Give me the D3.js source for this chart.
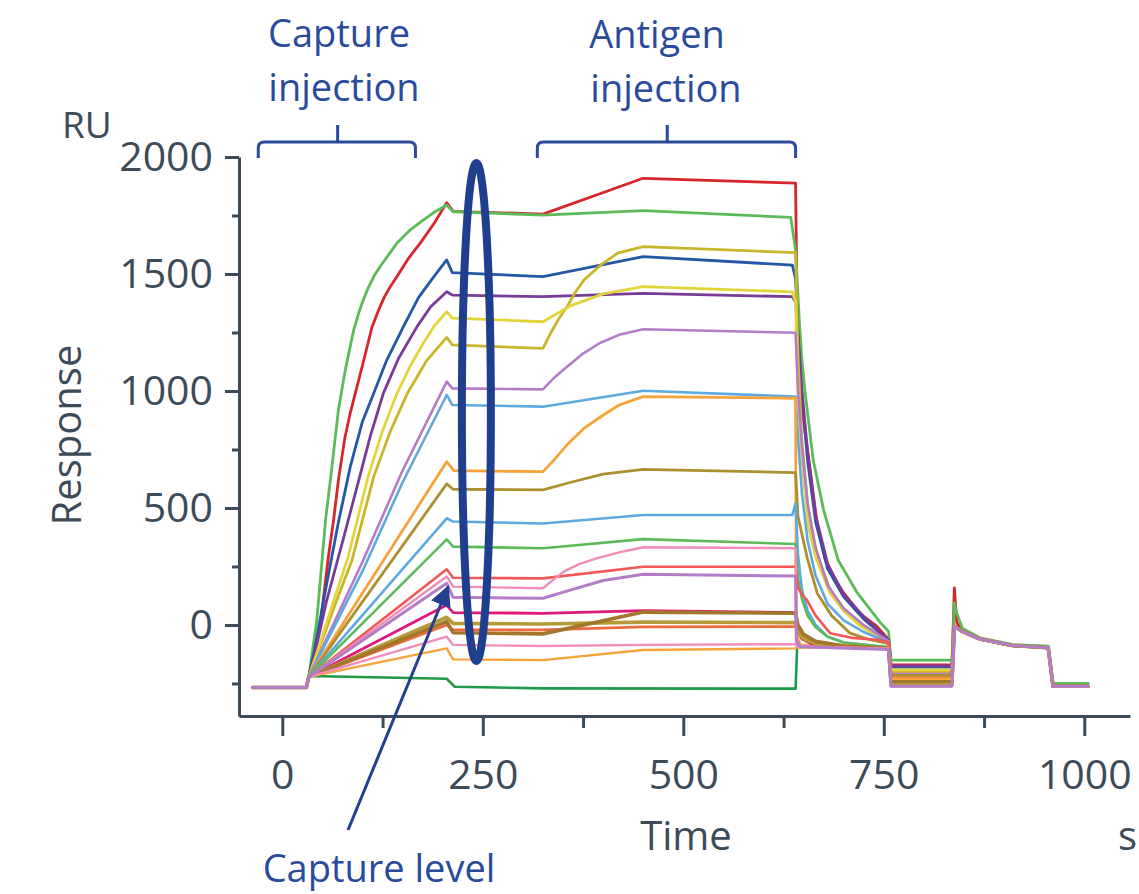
<!DOCTYPE html>
<html>
<head>
<meta charset="utf-8">
<script src="https://cdn.jsdelivr.net/npm/d3@7"></script>
<style>
  html, body { margin: 0; padding: 0; background: #fff; }
  svg { display: block; font-family: "Open Sans", "Noto Sans", sans-serif; }
</style>
</head>
<body>
<svg id="chart" width="1139" height="894"></svg>
<script>
// sensorgram traces as [time (s), response (RU)]

// shared start (baseline + injection start) and shared regeneration tail
const baseline = [[-37, -267], [30, -267], [33, -222]]
const rinseTail = [[838, -5], [848, -28], [870, -60], [910, -88], [955, -97], [961, -262], [1005, -262]]

const redTrace = [[38,-150],[48,20],[57,280],[64,450],[70,620],[78,800],[85,910],[91,990],[100,1110],[112,1275],[120,1345],[127,1400],[135,1448],[143,1489],[158,1570],[172,1632],[190,1720],[205,1805],[213,1768],[325,1756],[450,1909],[640,1888],[642,1300],[645,1050],[650,870],[656,720],[667,430],[677,280],[690,190],[700,137],[720,50],[741,-5],[756,-62],[759,-171],[835,-171],[838,158],[841,10],[848,-25],[870,-60],[910,-88],[955,-95],[961,-262],[1005,-262]]
const greenTrace = [[43,20],[54,450],[62,680],[70,920],[78,1080],[84,1180],[89,1260],[95,1330],[100,1380],[107,1440],[114,1489],[122,1532],[130,1570],[143,1632],[160,1690],[176,1731],[190,1765],[205,1795],[213,1766],[325,1752],[450,1771],[634,1742],[640,1600],[645,1280],[648,1130],[652,990],[662,705],[675,491],[693,278],[717,137],[746,9],[756,-28],[759,-150],[835,-150],[838,94],[841,50],[848,-15],[870,-55],[910,-83],[955,-90],[961,-250],[1005,-250]]
const blueTrace = [[40,-110],[55,170],[70,440],[85,680],[100,870],[114,990],[130,1130],[151,1275],[170,1400],[189,1489],[205,1560],[212,1506],[325,1489],[450,1574],[636,1538],[640,1480],[643,1250],[648,980],[655,700],[665,440],[680,240],[700,120],[725,25],[756,-65],[759,-180],[835,-180]]
const purpleTrace = [[40,-130],[55,100],[77,380],[97,640],[110,810],[126,990],[145,1140],[168,1275],[185,1360],[205,1424],[212,1410],[325,1403],[450,1417],[636,1403],[640,1380],[643,1230],[648,1000],[655,740],[665,470],[680,260],[700,130],[725,35],[756,-65],[759,-175],[835,-175]]
const yellowTrace = [[45,-100],[60,60],[82,290],[107,634],[125,830],[143,990],[160,1110],[176,1205],[190,1280],[205,1339],[212,1311],[325,1296],[360,1365],[400,1415],[450,1446],[636,1424],[640,1380],[643,1000],[648,700],[656,420],[665,290],[683,137],[700,60],[721,-5],[756,-75],[759,-192],[835,-192]]
const oliveYellowTrace = [[45,-110],[65,80],[87,278],[114,634],[135,830],[156,990],[180,1130],[205,1229],[212,1197],[325,1182],[335,1250],[345,1310],[355,1360],[365,1420],[376,1474],[397,1538],[418,1589],[450,1617],[640,1591],[643,1150],[648,780],[656,480],[665,320],[683,150],[700,70],[721,5],[756,-70],[759,-200],[835,-200]]
const lilacTrace = [[100,270],[150,660],[205,1040],[212,1011],[325,1007],[340,1060],[355,1104],[375,1160],[396,1205],[420,1240],[450,1264],[640,1249],[643,1000],[648,760],[655,520],[665,330],[680,170],[700,70],[725,0],[756,-70],[759,-210],[835,-210]]
const skyBlueTrace = [[100,230],[150,610],[205,983],[212,940],[325,933],[450,1001],[640,976],[643,800],[648,560],[655,360],[665,210],[680,90],[700,20],[725,-30],[756,-75],[759,-235],[835,-235]]
const orangeTrace = [[205,698],[214,660],[325,655],[340,710],[355,770],[376,840],[397,890],[420,940],[450,976],[640,969],[641,-40],[646,-85],[700,-95],[756,-100],[759,-225],[835,-225]]
const oliveBrownTrace = [[205,603],[213,580],[325,577],[360,610],[400,645],[450,665],[640,651],[643,463],[655,280],[667,136],[685,40],[708,-35],[730,-60],[756,-80],[759,-215],[835,-215]]
const skyBlue2Trace = [[205,456],[213,442],[325,434],[450,470],[636,470],[640,520],[643,300],[648,150],[655,60],[665,0],[680,-50],[700,-75],[756,-95],[759,-240],[835,-240]]
const green2Trace = [[205,366],[213,335],[325,328],[450,367],[640,346],[643,200],[648,110],[655,40],[665,-10],[680,-50],[700,-75],[756,-95],[759,-245],[835,-245]]
const lightRedTrace = [[205,238],[213,202],[325,199],[450,249],[640,249],[643,160],[648,130],[654,107],[665,40],[683,-35],[710,-55],[746,-64],[756,-75],[759,-230],[835,-230]]
const pinkTrace = [[205,207],[213,164],[325,157],[335,185],[351,228],[370,260],[392,285],[420,310],[450,332],[640,328],[641,-60],[646,-90],[756,-100],[759,-255],[835,-255]]
const lilac2Trace = [[205,178],[213,118],[325,114],[360,150],[400,190],[450,217],[640,209],[641,-70],[646,-93],[756,-105],[759,-262],[835,-262]]
const magentaTrace = [[205,85],[213,53],[325,50],[450,61],[640,53],[642,-20],[648,-60],[660,-80],[700,-92],[756,-100],[759,-258],[835,-258]]
const oliveTrace = [[205,33],[213,7],[325,4],[450,12],[640,10],[643,-30],[650,-60],[665,-80],[700,-92],[756,-100],[759,-250],[835,-250]]
const brownTrace = [[205,14],[213,-33],[325,-38],[450,55],[640,50],[643,0],[650,-40],[665,-70],[700,-90],[756,-100],[759,-240],[835,-240]]
const orangeRedTrace = [[205,0],[213,-21],[325,-21],[450,-8],[640,-7],[643,-20],[650,-45],[665,-70],[700,-88],[756,-98],[759,-228],[835,-228]]
const pink2Trace = [[205,-50],[213,-85],[325,-90],[450,-85],[640,-82],[642,-92],[756,-100],[759,-262],[835,-262]]
const orange2Trace = [[205,-100],[213,-147],[325,-150],[450,-107],[640,-100],[642,-95],[756,-100],[759,-230],[835,-230]]
const darkGreenTrace = [[35,-218],[205,-230],[215,-264],[325,-271],[640,-272],[642,-88],[756,-100],[759,-250],[835,-250]]

// draw order: first drawn ends up underneath
const traces = [
    { name: "dark green", color: "#1f9a47", width: 2.6, values: baseline.concat(darkGreenTrace, rinseTail) },
    { name: "red", color: "#d7262b", width: 2.8, values: baseline.concat(redTrace) },
    { name: "green", color: "#5cbb58", width: 2.8, values: baseline.concat(greenTrace) },
    { name: "blue", color: "#2457a7", width: 2.8, values: baseline.concat(blueTrace, rinseTail) },
    { name: "purple", color: "#7a3b97", width: 2.8, values: baseline.concat(purpleTrace, rinseTail) },
    { name: "olive yellow", color: "#c9b52c", width: 2.8, values: baseline.concat(oliveYellowTrace, rinseTail) },
    { name: "yellow", color: "#e2d53c", width: 2.8, values: baseline.concat(yellowTrace, rinseTail) },
    { name: "lilac", color: "#b47cc6", width: 2.6, values: baseline.concat(lilacTrace, rinseTail) },
    { name: "sky blue", color: "#5eaae0", width: 2.6, values: baseline.concat(skyBlueTrace, rinseTail) },
    { name: "orange", color: "#f7a33c", width: 2.8, values: baseline.concat(orangeTrace, rinseTail) },
    { name: "olive brown", color: "#ad8e30", width: 2.8, values: baseline.concat(oliveBrownTrace, rinseTail) },
    { name: "sky blue 2", color: "#5eaae0", width: 2.6, values: baseline.concat(skyBlue2Trace, rinseTail) },
    { name: "green 2", color: "#5cbb58", width: 2.6, values: baseline.concat(green2Trace, rinseTail) },
    { name: "light red", color: "#f25656", width: 2.6, values: baseline.concat(lightRedTrace, rinseTail) },
    { name: "pink", color: "#f28cb8", width: 2.4, values: baseline.concat(pinkTrace, rinseTail) },
    { name: "magenta", color: "#e0187a", width: 2.8, values: baseline.concat(magentaTrace, rinseTail) },
    { name: "orange red", color: "#ef6a3a", width: 2.6, values: baseline.concat(orangeRedTrace, rinseTail) },
    { name: "olive", color: "#b49a38", width: 3.6, values: baseline.concat(oliveTrace, rinseTail) },
    { name: "brown", color: "#a3762b", width: 3.6, values: baseline.concat(brownTrace, rinseTail) },
    { name: "orange 2", color: "#f7a33c", width: 2.4, values: baseline.concat(orange2Trace, rinseTail) },
    { name: "pink 2", color: "#f28cb8", width: 2.4, values: baseline.concat(pink2Trace, rinseTail) },
    { name: "lilac 2", color: "#b47cc6", width: 3, values: baseline.concat(lilac2Trace, rinseTail) }
]

const xMajorTicks = [0, 250, 500, 750, 1000]
const xMinorTicks = [125, 375, 625, 875]
const yMajorTicks = [0, 500, 1000, 1500, 2000]
const yMinorTicks = [-250, 250, 750, 1250, 1750]

const axisColor = "#3d4b58"
const noteColor = "#2a4b9b"

const svg = d3.select("#chart")
svg.append("rect").attr("width", 1139).attr("height", 894).attr("fill", "#fff")

// scales set so the axis lines run where they do in the picture
const x = d3.scaleLinear().domain([-54, 1057]).range([239, 1130])
const y = d3.scaleLinear().domain([-389, 2000]).range([716, 157])

// Y axis
const gy = svg.append("g").attr("transform", "translate(" + x(-54) + ",0)")
gy.call(d3.axisLeft(y).tickValues(yMajorTicks).tickSize(14).tickSizeOuter(0).tickPadding(12).tickFormat(d3.format("d")))
gy.append("g").call(d3.axisLeft(y).tickValues(yMinorTicks).tickSize(7).tickFormat(""))
    .call(g => g.select(".domain").remove())

// X axis
const gx = svg.append("g").attr("transform", "translate(0," + y(-389) + ")")
gx.call(d3.axisBottom(x).tickValues(xMajorTicks).tickSize(20).tickSizeOuter(0).tickPadding(24).tickFormat(d3.format("d")))
gx.append("g").call(d3.axisBottom(x).tickValues(xMinorTicks).tickSize(12).tickFormat(""))
    .call(g => g.select(".domain").remove())

svg.selectAll(".domain, .tick line").attr("stroke", axisColor).attr("stroke-width", 3)
svg.selectAll(".tick text").attr("fill", axisColor).attr("font-size", 41).attr("font-family", "Open Sans, sans-serif")

// axis titles
svg.append("text").attr("x", 62).attr("y", 138).attr("font-size", 37).attr("fill", axisColor).text("RU")
svg.append("text")
    .attr("transform", "translate(81,435) rotate(-90)")
    .attr("text-anchor", "middle").attr("font-size", 40).attr("fill", axisColor)
    .text("Response")
svg.append("text").attr("x", 686).attr("y", 850).attr("text-anchor", "middle")
    .attr("font-size", 40).attr("fill", axisColor).text("Time")
// unit label, pulled in just enough to stay inside the frame
svg.append("text").attr("x", 1118).attr("y", 850).attr("font-size", 40).attr("fill", axisColor).text("s")

// traces
const line = d3.line()
    .x(d => x(d[0]))
    .y(d => y(d[1]))

svg.append("g")
    .selectAll("path")
    .data(traces)
    .enter().append("path")
        .attr("fill", "none")
        .attr("stroke", d => d.color)
        .attr("stroke-width", d => d.width)
        .attr("stroke-linejoin", "round")
        .attr("stroke-linecap", "round")
        .attr("d", d => line(d.values))

// injection braces
function brace(t0, t1, tm) {
    const x0 = x(t0), x1 = x(t1), xm = x(tm)
    const yTop = 142, yEnd = 158, yNub = 125
    return "M" + x0 + "," + yEnd + " V" + (yTop + 6) + " Q" + x0 + "," + yTop + " " + (x0 + 6) + "," + yTop +
        " H" + (x1 - 6) + " Q" + x1 + "," + yTop + " " + x1 + "," + (yTop + 6) + " V" + yEnd +
        " M" + xm + "," + yTop + " V" + yNub
}

const notes = svg.append("g").attr("fill", noteColor)
notes.append("path").attr("d", brace(-30, 166, 69)).attr("fill", "none").attr("stroke", noteColor).attr("stroke-width", 3)
notes.append("path").attr("d", brace(318, 640, 480)).attr("fill", "none").attr("stroke", noteColor).attr("stroke-width", 3)

notes.append("text").attr("x", 339).attr("y", 47).attr("text-anchor", "middle").attr("font-size", 38).text("Capture")
notes.append("text").attr("x", 344).attr("y", 101).attr("text-anchor", "middle").attr("font-size", 38).text("injection")
notes.append("text").attr("x", 657).attr("y", 48).attr("text-anchor", "middle").attr("font-size", 38).text("Antigen")
notes.append("text").attr("x", 666).attr("y", 102).attr("text-anchor", "middle").attr("font-size", 38).text("injection")

// capture level marker
notes.append("ellipse")
    .attr("cx", x(242)).attr("cy", y(910))
    .attr("rx", 14.5).attr("ry", 249)
    .attr("fill", "none").attr("stroke", "#1f3e8e").attr("stroke-width", 8)

svg.append("defs").append("marker")
    .attr("id", "head").attr("viewBox", "0 0 10 10")
    .attr("refX", 9).attr("refY", 5)
    .attr("markerWidth", 7).attr("markerHeight", 7)
    .attr("orient", "auto")
    .append("path").attr("d", "M0,0 L10,5 L0,10 z").attr("fill", "#22408e")

notes.append("line")
    .attr("x1", 348).attr("y1", 830).attr("x2", 448).attr("y2", 587)
    .attr("stroke", "#22408e").attr("stroke-width", 3)
    .attr("marker-end", "url(#head)")

notes.append("text").attr("x", 379).attr("y", 882).attr("text-anchor", "middle").attr("font-size", 38).text("Capture level")
</script>
</body>
</html>
